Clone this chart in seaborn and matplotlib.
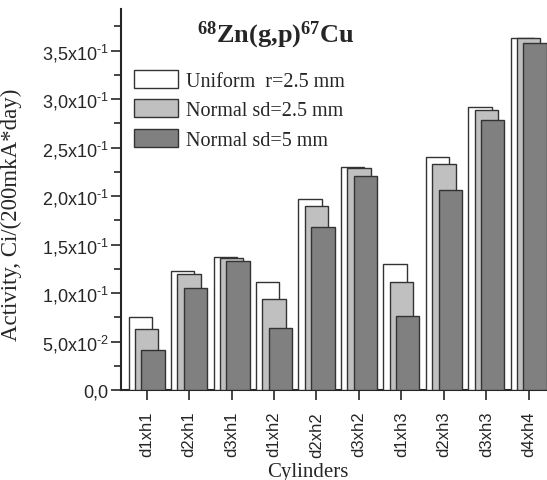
import matplotlib
matplotlib.use("Agg")
import matplotlib.pyplot as plt
import matplotlib.transforms as mtransforms
from matplotlib.patches import Patch
import seaborn as sns
import pandas as pd
import numpy as np

categories = ["d1xh1", "d2xh1", "d3xh1", "d1xh2", "d2xh2", "d3xh2",
              "d1xh3", "d2xh3", "d3xh3", "d4xh4"]
uniform_r25 = [0.0756, 0.1231, 0.1375, 0.1110, 0.1967, 0.2303, 0.1296, 0.2407, 0.2915, 0.3634]
normal_sd25 = [0.0633, 0.1193, 0.1365, 0.0942, 0.1901, 0.2286, 0.1117, 0.2327, 0.2891, 0.3630]
normal_sd5 = [0.0413, 0.1055, 0.1327, 0.0643, 0.1685, 0.2211, 0.0767, 0.2063, 0.2788, 0.3579]
series_names = ["Uniform  r=2.5 mm", "Normal sd=2.5 mm", "Normal sd=5 mm"]
series_values = [uniform_r25, normal_sd25, normal_sd5]
series_colors = ["#ffffff", "#c0c0c0", "#808080"]
series_offsets = [-0.15, 0.0, 0.15]
yticks = [0.0, 0.05, 0.10, 0.15, 0.20, 0.25, 0.30, 0.35]
ytick_labels = ["0,0", r"5,0x10$^{\text{-}2}$", r"1,0x10$^{\text{-}1}$", r"1,5x10$^{\text{-}1}$",
                r"2,0x10$^{\text{-}1}$", r"2,5x10$^{\text{-}1}$", r"3,0x10$^{\text{-}1}$",
                r"3,5x10$^{\text{-}1}$"]

sns.set_style("ticks")
plt.rcParams["font.family"] = ["Liberation Sans", "DejaVu Sans"]
plt.rcParams["mathtext.fontset"] = "custom"
plt.rcParams["mathtext.rm"] = "Liberation Sans"
plt.rcParams["mathtext.bf"] = "Liberation Serif:bold"

fig = plt.figure(figsize=(5.47, 4.81), dpi=100)
ax = fig.add_axes([121 / 547, 90 / 481, 426 / 547, 381 / 481])

for name, vals, col, off in zip(series_names, series_values, series_colors, series_offsets):
    df = pd.DataFrame({"Cylinder": categories, "Activity": vals})
    n_before = len(ax.patches)
    sns.barplot(data=df, x="Cylinder", y="Activity", color=col, width=0.55,
                saturation=1, edgecolor="#333333", linewidth=1.0, ax=ax, errorbar=None)
    shift = mtransforms.Affine2D().translate(off, 0) + ax.transData
    for p in ax.patches[n_before:]:
        p.set_transform(shift)
        p.set_facecolor(col)

ax.set_xlim(-0.605, 9.43)
ax.set_ylim(0, 0.393)
ax.set_yticks(yticks)
ax.set_yticklabels(ytick_labels, fontsize=13)
ax.set_yticks(np.arange(0.025, 0.39, 0.05), minor=True)
ax.tick_params(axis="y", which="major", length=7, width=1.2, direction="out", pad=2)
ax.tick_params(axis="y", which="minor", length=5, width=1.2, direction="out")
ax.tick_params(axis="x", which="major", length=7, width=1.2, direction="out", pad=8)
plt.setp(ax.get_xticklabels(), rotation=90, fontsize=12)

ax.spines["top"].set_visible(False)
ax.spines["right"].set_visible(False)
ax.spines["left"].set_linewidth(1.5)
ax.spines["bottom"].set_linewidth(1.5)
ax.spines["bottom"].set_zorder(0.5)

ax.set_xlabel("Cylinders", fontsize=15, family="Liberation Serif")
ax.set_ylabel("Activity, Ci/(200mkA*day)", fontsize=16.5, family="Liberation Serif")
ax.xaxis.set_label_coords(0.439, -0.19)
ax.yaxis.set_label_coords(-0.232, 0.462)

ax.text(0.364, 0.916, r"$\mathbf{^{68}Zn(g{,}p)^{67}Cu}$", transform=ax.transAxes,
        ha="center", va="baseline", fontsize=19)

handles = [Patch(facecolor=c, edgecolor="#333333", linewidth=1.0) for c in series_colors]
leg = ax.legend(handles, series_names, loc="upper left", bbox_to_anchor=(0.0305, 0.84),
                frameon=False, borderpad=0, borderaxespad=0, handlelength=2.2,
                handleheight=1.0, handletextpad=0.36, labelspacing=0.42,
                prop={"family": "Liberation Serif", "size": 14.5})

fig.savefig("out.png", dpi=100)
